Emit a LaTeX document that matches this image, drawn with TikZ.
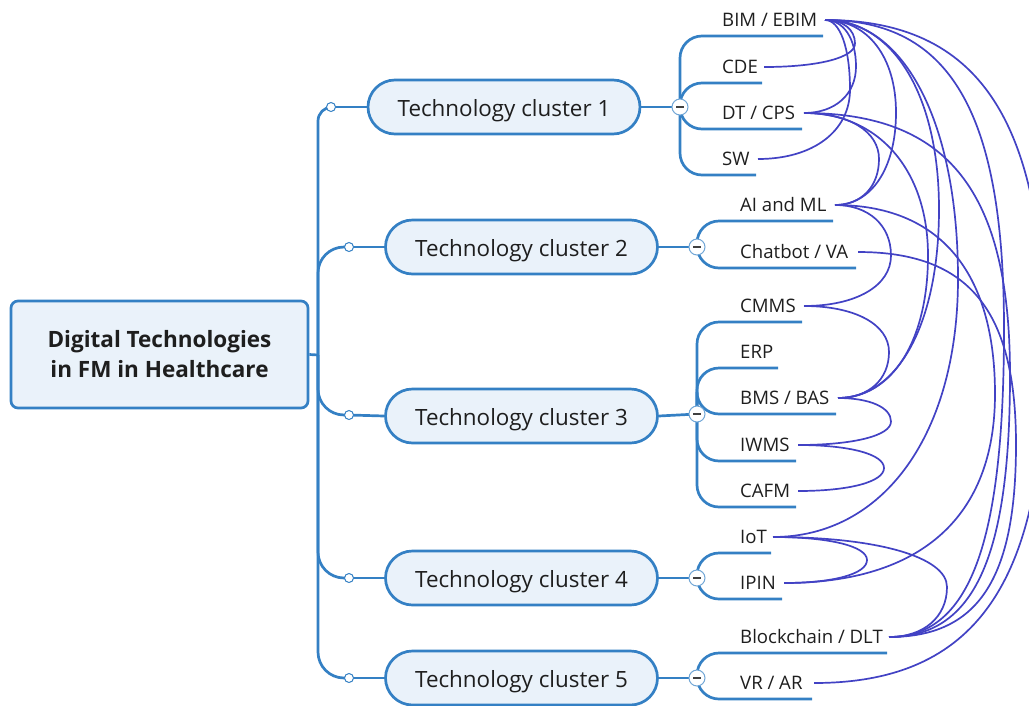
\documentclass[tikz,border=0pt]{standalone}
\usepackage{fontspec}
\setmainfont{Open Sans}
\usetikzlibrary{calc}
\definecolor{br}{RGB}{52,128,196}
\definecolor{bxfill}{RGB}{234,242,250}
\definecolor{rl}{RGB}{66,66,196}
\definecolor{txt}{RGB}{30,30,30}
\tikzset{
 branch/.style={draw=br, line width=2.7pt},
 rootbox/.style={draw=br, line width=2.7pt, fill=bxfill, rounded corners=7pt, minimum width=297pt, minimum height=107pt, align=center, font=\fontsize{22.5}{30}\selectfont\bfseries, text=txt},
 clbox/.style={draw=br, line width=2.7pt, fill=bxfill, rounded corners=27pt, minimum width=272pt, minimum height=54pt, inner sep=0pt, text height=20pt, text depth=2pt, font=\fontsize{22.4}{24}\selectfont, text=txt},
 dot/.style={circle, draw=br, fill=white, line width=1pt, inner sep=0pt, minimum size=9pt},
 col/.style={circle, draw=br!70, fill=white, line width=1pt, inner sep=0pt, minimum size=16pt},
 leaf/.style={anchor=base west, inner sep=0pt, font=\fontsize{18.6}{20}\selectfont, text=txt},
 rel/.style={draw=rl, line width=1.7pt},
}
\newcommand\leaf[6]{%
 \draw[branch, rounded corners=22pt] (#2) |- (#5,#4);
 \node[leaf] (#1) at (#3,#4-10) {#6};
 \coordinate (#1r) at (#5+2,#4-16);
}
% relationship: from #1 to #2, farthest right at x=#3, squareness #4
\newcommand\rel[4]{%
 \draw[rel] let \p1=(#1r), \p2=(#2r),
   \n2={(\y1+\y2)/2},
   \n3={\x1+#4*(#3pt-\x1)}, \n4={\x2+#4*(#3pt-\x2)},
   \n5={\n2+#4*(\y1-\n2)}, \n6={\n2+#4*(\y2-\n2)} in
 (\p1) .. controls (\n3,\y1) and (#3pt,\n5) .. (#3pt,\n2)
       .. controls (#3pt,\n6) and (\n4,\y2) .. (\p2);}
\newcommand\colnode[1]{\node[col] at (#1) {}; \draw[line width=1.4pt, black!75] ($(#1)+(-4,0)$) -- ($(#1)+(4,0)$);}
\begin{document}
\begin{tikzpicture}[x=1pt,y=-1pt]
\useasboundingbox (0,0) rectangle (1029,705);
\clip (0,0) rectangle (1029,705);
% collapse centres
\coordinate (c1) at (680,107);
\coordinate (c2) at (697,247);
\coordinate (c3) at (697,414);
\coordinate (c4) at (697,578);
\coordinate (c5) at (697,678);
% root and clusters
\node[rootbox] (root) at (159.5,354.5) {Digital Technologies\\in FM in Healthcare};
\node[clbox] (cl1) at (504,107) {Technology cluster 1};
\node[clbox] (cl2) at (521.5,247) {Technology cluster 2};
\node[clbox] (cl3) at (521.5,416) {Technology cluster 3};
\node[clbox] (cl4) at (521.5,578) {Technology cluster 4};
\node[clbox] (cl5) at (521.5,678) {Technology cluster 5};
\coordinate (tr) at (318,355);
\coordinate (k1) at (331,107);
\coordinate (k2) at (349,247);
\coordinate (k3) at (349,415);
\coordinate (k4) at (349,578);
\coordinate (k5) at (349,678);
\draw[branch] (root.east) -- (tr);
\draw[branch, rounded corners=14pt] (tr) |- (k1);
\draw[branch, rounded corners=26pt] (tr) |- (k2);
\draw[branch, rounded corners=26pt] (tr) |- (k3);
\draw[branch, rounded corners=26pt] (tr) |- (k4);
\draw[branch, rounded corners=26pt] (tr) |- (k5);
\foreach \i in {1,...,5}{\draw[branch] (k\i) -- (cl\i.west); \draw[branch] (cl\i.east) -- (c\i);}
% leaves
\leaf{bim}{c1}{722}{36}{823}{BIM / EBIM}
\leaf{cde}{c1}{722}{83}{762}{CDE}
\leaf{dt}{c1}{722}{129}{802}{DT / CPS}
\leaf{sw}{c1}{722}{175}{756}{SW}
\leaf{ai}{c2}{740}{221}{833}{AI and ML}
\leaf{chat}{c2}{740}{268}{856}{Chatbot / VA}
\leaf{cmms}{c3}{740}{322}{802}{CMMS}
\leaf{erp}{c3}{740}{368}{778}{ERP}
\leaf{bms}{c3}{740}{414}{836}{BMS / BAS}
\leaf{iwms}{c3}{740}{461}{796}{IWMS}
\leaf{cafm}{c3}{740}{507}{796}{CAFM}
\leaf{iot}{c4}{740}{553}{771}{IoT}
\leaf{ipin}{c4}{740}{599}{782}{IPIN}
\leaf{bc}{c5}{740}{653}{887}{Blockchain / DLT}
\leaf{vr}{c5}{740}{699}{812}{VR / AR}
% small dots and collapse buttons
\foreach \i in {1,...,5}{\node[dot] at (k\i) {}; \colnode{c\i}}
% relationships
\rel{bim}{cde}{855}{0.6}
\rel{bim}{dt}{856}{0.6}
\rel{bim}{sw}{850}{0.6}
\rel{bim}{ai}{896}{0.6}
\rel{dt}{ai}{879}{0.6}
\rel{ai}{cmms}{891}{0.6}
\rel{cmms}{bms}{889}{0.6}
\rel{bms}{iwms}{891}{0.6}
\rel{iwms}{cafm}{884}{0.6}
\rel{iot}{ipin}{867}{0.6}
\rel{iot}{bc}{947}{0.6}
\rel{bim}{bms}{939}{0.6}
\rel{dt}{bms}{928}{0.6}
\rel{bim}{iot}{958}{0.6}
\rel{ai}{ipin}{995}{0.65}
\rel{chat}{bc}{1016}{0.7}
\rel{dt}{bc}{1010}{0.7}
\rel{bim}{bc}{1004}{0.7}
\rel{bim}{vr}{1045}{0.7}
\end{tikzpicture}
\end{document}
